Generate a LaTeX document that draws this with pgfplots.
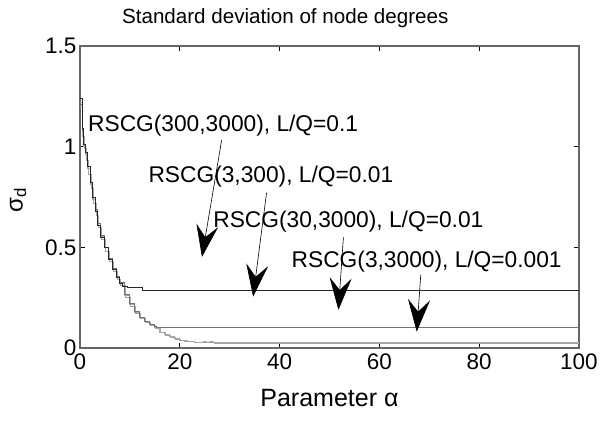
\documentclass[border=0pt]{standalone}
\usepackage{pgfplots}
\pgfplotsset{compat=1.18}
\usepackage{fontspec}
\setmainfont{Liberation Sans}
\usetikzlibrary{arrows.meta}
\definecolor{cA}{gray}{0.15}
\definecolor{cB}{gray}{0.45}
\definecolor{cC}{gray}{0.65}
\definecolor{cAx}{gray}{0.4}
\begin{document}
\begin{tikzpicture}
\begin{axis}[
  name=ax,
  scale only axis,
  width=499pt, height=302pt,
  xmin=0, xmax=100, ymin=0, ymax=1.5,
  xtick={0,20,40,60,80,100},
  ytick={0,0.5,1,1.5},
  tick align=inside,
  major tick length=5pt,
  axis line style={cAx, line width=1.2pt},
  every tick/.style={black, line width=0.8pt},
  /pgf/number format/assume math mode=true,
  tick label style={font=\fontsize{22.5}{26}\selectfont},
  xticklabel style={yshift=-2pt},
  xlabel={Parameter α},
  xlabel style={font=\fontsize{25}{29}\selectfont, at={(axis description cs:0.5,-0.166)}, anchor=center},
  ylabel={σ\textsubscript{d}},
  ylabel style={font=\fontsize{24}{28}\selectfont, at={(axis description cs:-0.124,0.49)}, anchor=center},
  clip=false,
]
% RSCG(30,3000) light gray
\addplot[cC, line width=0.9pt, const plot] coordinates {
(0,1.22) (0.4,1.07) (0.7,1.0) (1.0,0.96) (1.5,0.89) (2.0,0.81) (2.5,0.74) (3.0,0.68) (3.6,0.61) (4.2,0.555) (5.0,0.50) (5.8,0.44) (6.6,0.39) (7.3,0.35) (8.0,0.32) (9.0,0.26) (10,0.215) (11,0.175) (12,0.15) (13,0.13) (14,0.115) (15,0.10) (16,0.078) (17,0.066) (18,0.055) (19,0.045) (20,0.036) (21,0.033) (22,0.030) (23,0.029) (24,0.026) (24.7,0.034) (25.3,0.027) (26,0.033) (26.7,0.025) (27,0.024) (100,0.024)};
% RSCG(3,3000) light gray
\addplot[cC, line width=0.9pt, const plot] coordinates {
(0,1.20) (0.5,1.05) (0.8,0.99) (1.2,0.93) (1.7,0.86) (2.2,0.79) (2.7,0.72) (3.2,0.66) (3.8,0.6) (4.4,0.54) (5.2,0.48) (6.0,0.43) (6.8,0.38) (7.5,0.34) (8.2,0.31) (9.2,0.25) (10.2,0.205) (11.2,0.17) (12.2,0.145) (13.2,0.125) (14.2,0.11) (15.2,0.095) (16.2,0.075) (17.2,0.063) (18.2,0.052) (19.2,0.043) (20.2,0.035) (21.5,0.031) (23,0.028) (24.5,0.025) (100,0.022)};
% RSCG(3,300) gray
\addplot[cB, line width=0.9pt, const plot] coordinates {
(0,1.21) (0.4,1.08) (0.6,1.01) (1.0,0.97) (1.5,0.90) (2.0,0.82) (2.5,0.75) (3.0,0.69) (3.6,0.62) (4.2,0.56) (5.0,0.50) (5.8,0.445) (6.6,0.395) (7.3,0.355) (8.0,0.325) (9.0,0.265) (10,0.22) (11,0.18) (12,0.152) (13,0.132) (14,0.118) (15,0.106) (15.4,0.10) (100,0.10)};
% RSCG(300,3000) black
\addplot[cA, line width=0.9pt, const plot] coordinates {
(0,1.24) (0.4,1.09) (0.6,1.01) (1.0,0.97) (1.5,0.90) (2.0,0.82) (2.5,0.75) (3.0,0.68) (3.6,0.61) (4.2,0.55) (5.0,0.50) (5.8,0.44) (6.6,0.39) (7.3,0.35) (8.0,0.32) (8.6,0.305) (9.5,0.30) (12.6,0.288) (100,0.288)};

\node[anchor=base west, font=\fontsize{20.6}{25}\selectfont, inner sep=0pt] at (axis cs:8.4,1.613) {Standard deviation of node degrees};

\node[anchor=base west, font=\fontsize{22.75}{27}\selectfont, inner sep=0pt] at (axis cs:1.6,1.075) {RSCG(300,3000), L/Q=0.1};
\node[anchor=base west, font=\fontsize{22.75}{27}\selectfont, inner sep=0pt] at (axis cs:13.7,0.822) {RSCG(3,300), L/Q=0.01};
\node[anchor=base west, font=\fontsize{22.75}{27}\selectfont, inner sep=0pt] at (axis cs:26.7,0.600) {RSCG(30,3000), L/Q=0.01};
\node[anchor=base west, font=\fontsize{22.75}{27}\selectfont, inner sep=0pt] at (axis cs:42.4,0.402) {RSCG(3,3000), L/Q=0.001};

\draw[line width=0.6pt, -{Stealth[length=32pt, width=22pt, inset=12pt]}] (axis cs:28.4,1.033) -- (axis cs:24.45,0.452);
\draw[line width=0.6pt, -{Stealth[length=32pt, width=22pt, inset=12pt]}] (axis cs:37.4,0.771) -- (axis cs:34.7,0.255);
\draw[line width=0.6pt, -{Stealth[length=32pt, width=22pt, inset=12pt]}] (axis cs:52.8,0.55) -- (axis cs:51.8,0.189);
\draw[line width=0.6pt, -{Stealth[length=32pt, width=22pt, inset=12pt]}] (axis cs:68.3,0.363) -- (axis cs:67.5,0.081);
\end{axis}
\path ([shift={(-80pt,-73pt)}]ax.south west) rectangle ([shift={(22pt,46pt)}]ax.north east);
\end{tikzpicture}
\end{document}
